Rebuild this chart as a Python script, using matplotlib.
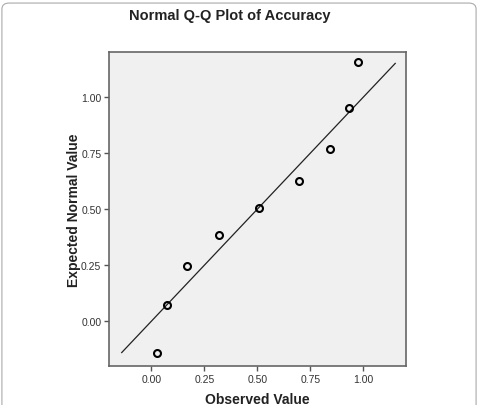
import matplotlib
matplotlib.use('Agg')
import matplotlib.pyplot as plt
from matplotlib.patches import FancyBboxPatch

plt.rcParams['font.family'] = ['Liberation Sans', 'DejaVu Sans']

# Q-Q values
observed = [0.026, 0.073, 0.167, 0.319, 0.506, 0.694, 0.841, 0.930, 0.975]
expected = [-0.144, 0.074, 0.245, 0.383, 0.505, 0.624, 0.768, 0.952, 1.154]
line_ends = [-0.14, 1.15]
ticks = [0.0, 0.25, 0.5, 0.75, 1.0]
tick_labels = ['0.00', '0.25', '0.50', '0.75', '1.00']

fig = plt.figure(figsize=(4.78, 4.06), dpi=100)
fig.patch.set_facecolor('white')

# faint rounded frame around the figure
frame = FancyBboxPatch((0.004, -0.05), 0.992, 1.04, boxstyle='round,pad=0,rounding_size=0.015',
                       transform=fig.transFigure, facecolor='none', edgecolor='#aaaaaa', linewidth=0.8)
fig.patches.append(frame)

ax = fig.add_axes([0.228, 0.096, 0.621, 0.773])
ax.set_facecolor('#f0f0f0')

ax.plot(line_ends, line_ends, color='#222222', linewidth=0.9)
ax.plot(observed, expected, linestyle='none', marker='o', markersize=5,
        markerfacecolor='none', markeredgecolor='black', markeredgewidth=1.5)

ax.set_xlim(-0.2, 1.2)
ax.set_ylim(-0.2, 1.2)
ax.set_xticks(ticks)
ax.set_xticklabels(tick_labels)
ax.set_yticks(ticks)
ax.set_yticklabels(tick_labels)
ax.tick_params(direction='out', length=3.5, width=1, color='#555555', labelsize=7.5, labelcolor='#333333', pad=2)

for s in ax.spines.values():
    s.set_color('#666666')
    s.set_linewidth(1.2)

ax.set_xlabel('Observed Value', fontsize=10, fontweight='bold', color='#222222', labelpad=6)
ax.set_ylabel('Expected Normal Value', fontsize=10, fontweight='bold', color='#222222', labelpad=0)
fig.text(0.481, 0.96, 'Normal Q-Q Plot of Accuracy', fontsize=10.5, fontweight='bold',
         color='#222222', ha='center', va='center')

fig.savefig('out.png', dpi=100)
